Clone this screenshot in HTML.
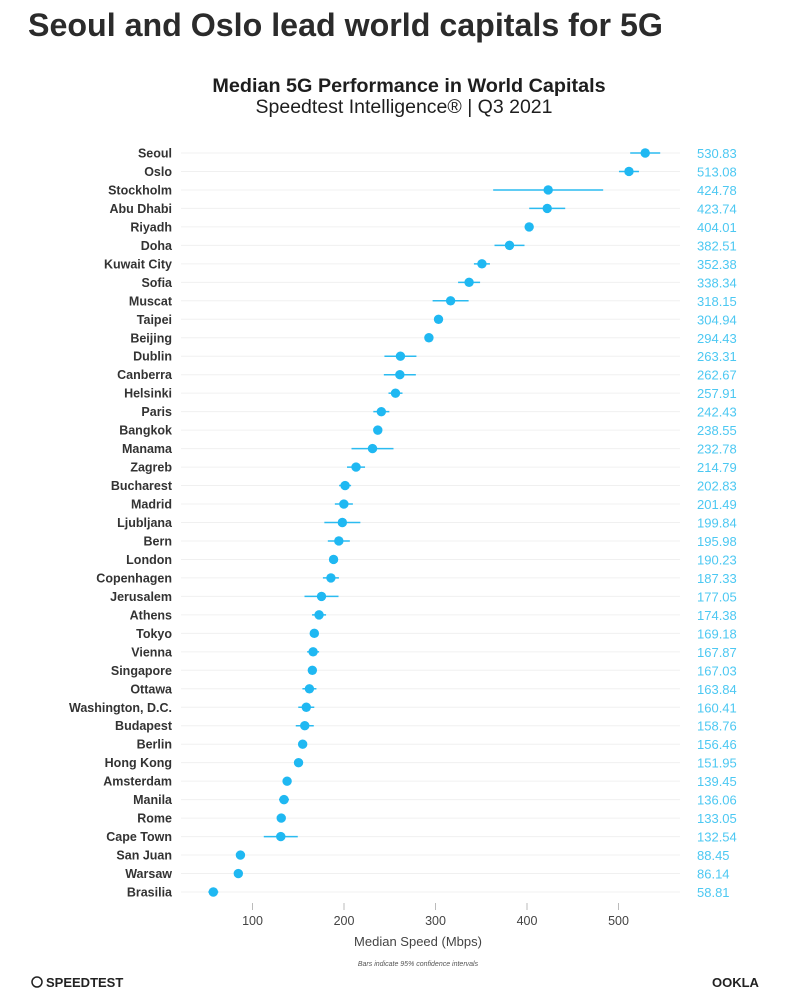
<!DOCTYPE html>
<html><head><meta charset="utf-8"><style>
html,body{margin:0;padding:0;background:#fff;width:792px;height:1000px;overflow:hidden}
svg{display:block}
</style></head><body>
<svg id="s" width="792" height="1000" xmlns="http://www.w3.org/2000/svg" font-family="Liberation Sans, sans-serif">
<text x="28" y="36" font-size="32.2" font-weight="bold" fill="#2b2b2b">Seoul and Oslo lead world capitals for 5G</text>
<text x="409" y="92" font-size="19.8" font-weight="bold" fill="#1e1e1e" text-anchor="middle">Median 5G Performance in World Capitals</text>
<text x="404" y="113" font-size="19.5" fill="#1e1e1e" text-anchor="middle">Speedtest Intelligence® | Q3 2021</text>
<g id="g"></g>
<text x="418" y="946" font-size="13" fill="#444" text-anchor="middle">Median Speed (Mbps)</text>
<text x="418" y="966" font-size="7" font-style="italic" fill="#555" text-anchor="middle">Bars indicate 95% confidence intervals</text>
<circle cx="37" cy="982" r="5" fill="none" stroke="#222" stroke-width="1.5"/>
<text x="46" y="987" font-size="13" font-weight="bold" fill="#222">SPEEDTEST</text>
<text x="712" y="987" font-size="13" font-weight="bold" fill="#222">OOKLA</text>
</svg>
<script>
var d=[["Seoul",530.83,15],["Oslo",513.08,10],["Stockholm",424.78,55],["Abu Dhabi",423.74,18],["Riyadh",404.01,3],["Doha",382.51,15],["Kuwait City",352.38,8],["Sofia",338.34,11],["Muscat",318.15,18],["Taipei",304.94,3],["Beijing",294.43,3],["Dublin",263.31,16],["Canberra",262.67,16],["Helsinki",257.91,7],["Paris",242.43,8],["Bangkok",238.55,3],["Manama",232.78,21],["Zagreb",214.79,9],["Bucharest",202.83,6],["Madrid",201.49,9],["Ljubljana",199.84,18],["Bern",195.98,11],["London",190.23,3],["Copenhagen",187.33,8],["Jerusalem",177.05,17],["Athens",174.38,7],["Tokyo",169.18,3],["Vienna",167.87,6],["Singapore",167.03,3],["Ottawa",163.84,7],["Washington, D.C.",160.41,8],["Budapest",158.76,9],["Berlin",156.46,3],["Hong Kong",151.95,3],["Amsterdam",139.45,3],["Manila",136.06,5],["Rome",133.05,3],["Cape Town",132.54,17],["San Juan",88.45,4],["Warsaw",86.14,3],["Brasilia",58.81,5]];
var h='';
function X(v){return 159.5+v*0.915;}
d.forEach(function(r,i){var y=153+i*18.475;var x=X(r[1]);
h+='<line x1="181" x2="680" y1="'+y+'" y2="'+y+'" stroke="#f0f0f0" stroke-width="1"/>';
h+='<text x="172" y="'+(y+4.5)+'" font-size="12.5" font-weight="bold" fill="#333" text-anchor="end">'+r[0]+'</text>';
h+='<line x1="'+(x-r[2])+'" x2="'+(x+r[2])+'" y1="'+y+'" y2="'+y+'" stroke="#2bbbf0" stroke-width="1.5"/>';
h+='<circle cx="'+x+'" cy="'+y+'" r="4.7" fill="#1fb8f2"/>';
h+='<text x="697" y="'+(y+5)+'" font-size="13" fill="#4cc8f2">'+r[1].toFixed(2)+'</text>';});
[100,200,300,400,500].forEach(function(v){var x=X(v)+1.5;
h+='<line x1="'+x+'" x2="'+x+'" y1="903" y2="910" stroke="#bbb"/>';
h+='<text x="'+x+'" y="925" font-size="12.5" fill="#444" text-anchor="middle">'+v+'</text>';});
document.getElementById('g').innerHTML=h;
</script>
</body></html>
